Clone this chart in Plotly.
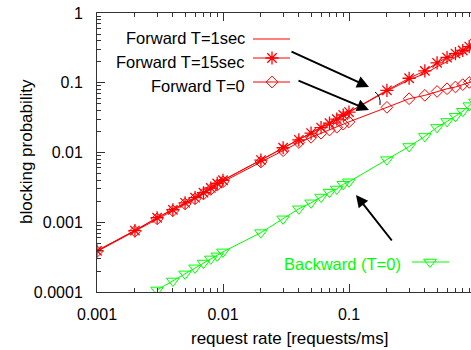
import plotly.graph_objects as go

# ---- data ----
rate = [0.001, 0.002, 0.003, 0.004, 0.005, 0.006, 0.007, 0.008, 0.009,
        0.01, 0.02, 0.03, 0.04, 0.05, 0.06, 0.07, 0.08, 0.09,
        0.1, 0.2, 0.3, 0.4, 0.5, 0.6, 0.7, 0.8, 0.9, 1.0]

fwd_15s = [0.00039, 0.00076, 0.00116, 0.00151, 0.0019, 0.00225, 0.00265, 0.0031, 0.0036,
           0.0040, 0.0078, 0.0117, 0.0152, 0.019, 0.0228, 0.0263, 0.030, 0.0345,
           0.038, 0.078, 0.116, 0.148, 0.193, 0.23, 0.262, 0.29, 0.33, 0.36]

fwd_1s = [0.00039, 0.00076, 0.00116, 0.00151, 0.0019, 0.00225, 0.00265, 0.0031, 0.0036,
          0.0040, 0.0078, 0.0117, 0.0152, 0.019, 0.0228, 0.0263, 0.030, 0.0345,
          0.038, 0.076, 0.11, 0.135, 0.17, 0.2, 0.23, 0.26, 0.29, 0.32]

fwd_0 = [0.00038, 0.00074, 0.00112, 0.00146, 0.00183, 0.00217, 0.00254, 0.00295, 0.0034,
         0.0038, 0.0073, 0.0106, 0.0139, 0.0165, 0.0189, 0.021, 0.023, 0.0255,
         0.0275, 0.0444, 0.059, 0.066, 0.075, 0.082, 0.087, 0.094, 0.101, 0.107]

bwd_rate = [0.003, 0.004, 0.005, 0.006, 0.007, 0.008, 0.009,
            0.01, 0.02, 0.03, 0.04, 0.05, 0.06, 0.07, 0.08, 0.09,
            0.1, 0.2, 0.3, 0.4, 0.5, 0.6, 0.7, 0.8, 0.9, 1.0]
bwd_0 = [0.000107, 0.000144, 0.000182, 0.000222, 0.00026, 0.000298, 0.00033,
         0.000376, 0.00071, 0.00112, 0.00156, 0.0019, 0.0023, 0.0027, 0.003, 0.0035,
         0.0038, 0.0079, 0.0122, 0.017, 0.0229, 0.0279, 0.033, 0.039, 0.047, 0.053]

x_ticks = [0.001, 0.01, 0.1, 1]
x_ticktext = ["0.001", "0.01", "0.1", "1"]
y_ticks = [0.0001, 0.001, 0.01, 0.1, 1]
y_ticktext = ["0.0001", "0.001", "0.01", "0.1", "1"]

RED = "#ff0000"
GREEN = "#00ff00"
FONT = "Liberation Sans, Arial, sans-serif"

# plot area in pixels
L, R, T, B = 97, 471, 13, 292
W, H = 471, 350


def px(x):
    return (x - L) / (R - L)


def py(y):
    return (B - y) / (B - T)


STAR = dict(symbol="asterisk-open", size=11, color=RED, line=dict(color=RED, width=1.3))
DIAM = dict(symbol="diamond-open", size=9, color=RED, line=dict(color=RED, width=1))
TRI = dict(symbol="triangle-down-open", size=11, color=GREEN, line=dict(color=GREEN, width=1))

fig = go.Figure()

fig.add_trace(go.Scatter(x=rate, y=fwd_1s, mode="lines",
                         line=dict(color=RED, width=1), showlegend=False))
fig.add_trace(go.Scatter(x=rate, y=fwd_15s, mode="lines+markers",
                         line=dict(color=RED, width=1), marker=STAR, showlegend=False))
fig.add_trace(go.Scatter(x=rate, y=fwd_0, mode="lines+markers",
                         line=dict(color=RED, width=1), marker=DIAM, showlegend=False))
fig.add_trace(go.Scatter(x=bwd_rate, y=bwd_0, mode="lines+markers",
                         line=dict(color=GREEN, width=1), marker=TRI, showlegend=False))

# legend markers on an overlay axis in paper-like units
fig.add_trace(go.Scatter(x=[px(272)], y=[py(58)], mode="markers", xaxis="x2", yaxis="y2",
                         marker=STAR, showlegend=False, hoverinfo="skip"))
fig.add_trace(go.Scatter(x=[px(272)], y=[py(82)], mode="markers", xaxis="x2", yaxis="y2",
                         marker=DIAM, showlegend=False, hoverinfo="skip"))
fig.add_trace(go.Scatter(x=[px(430)], y=[py(262)], mode="markers", xaxis="x2", yaxis="y2",
                         marker=TRI, showlegend=False, hoverinfo="skip"))

shapes = []
for y0, col, x0, x1 in [(39, RED, 253, 290), (58, RED, 253, 290), (82, RED, 253, 290),
                        (262, GREEN, 412, 449)]:
    shapes.append(dict(type="line", xref="paper", yref="paper",
                       x0=px(x0), x1=px(x1), y0=py(y0), y1=py(y0),
                       line=dict(color=col, width=1)))
# angle arc
shapes.append(dict(type="path", xref="paper", yref="paper",
                   path=f"M {px(375)},{py(92)} Q {px(381)},{py(96)} {px(380)},{py(105)}",
                   line=dict(color="black", width=1)))

annotations = []
for txt, yc in [("Forward T=1sec", 38), ("Forward T=15sec", 61.5), ("Forward T=0", 86)]:
    annotations.append(dict(text=txt, xref="paper", yref="paper", x=px(247), y=py(yc),
                            xanchor="right", yanchor="middle", showarrow=False,
                            font=dict(family=FONT, size=16.5, color="black")))
annotations.append(dict(text="Backward (T=0)", xref="paper", yref="paper", x=px(403), y=py(264),
                        xanchor="right", yanchor="middle", showarrow=False,
                        font=dict(family=FONT, size=16.5, color=GREEN)))

# arrows (head, tail)
for (hx, hy), (tx, ty) in [((369, 87), (290, 51)), ((369, 110), (297, 80)),
                           ((356, 195), (393, 242))]:
    annotations.append(dict(text="", xref="paper", yref="paper", x=px(hx), y=py(hy),
                            ax=tx - hx, ay=ty - hy, axref="pixel", ayref="pixel",
                            showarrow=True, arrowhead=2, arrowsize=1.2, arrowwidth=2,
                            arrowcolor="black"))

# axis titles
annotations.append(dict(text="request rate [requests/ms]", xref="paper", yref="paper",
                        x=px(289), y=py(338), xanchor="center", yanchor="middle",
                        showarrow=False, font=dict(family=FONT, size=17, color="black")))
annotations.append(dict(text="blocking probability", xref="paper", yref="paper",
                        x=px(26), y=py(152), xanchor="center", yanchor="middle",
                        textangle=-90, showarrow=False,
                        font=dict(family=FONT, size=17, color="black")))

axis_common = dict(showline=True, linecolor="#333333", linewidth=1, ticks="inside",
                   tickcolor="#333333", showgrid=False, zeroline=False,
                   tickfont=dict(family=FONT, size=16, color="black"))

fig.update_layout(
    width=W, height=H,
    margin=dict(l=L, r=W - R, t=T, b=H - B, pad=0),
    paper_bgcolor="white", plot_bgcolor="white",
    shapes=shapes, annotations=annotations,
    xaxis=dict(type="log", range=[-3, -3 + (R - L) / 126.0],
               tickvals=x_ticks, ticktext=x_ticktext, ticklen=8,
               mirror="ticks", ticklabelstandoff=8,
               minor=dict(ticks="inside", ticklen=4, dtick="D1", tickcolor="#333333",
                          showgrid=False),
               **axis_common),
    yaxis=dict(type="log", range=[-4, 0],
               tickvals=y_ticks, ticktext=y_ticktext, ticklen=8,
               mirror=False, ticklabelstandoff=10,
               minor=dict(ticks="inside", ticklen=4, dtick="D1", tickcolor="#333333",
                          showgrid=False),
               **axis_common),
    xaxis2=dict(overlaying="x", range=[0, 1], visible=False, fixedrange=True),
    yaxis2=dict(overlaying="y", range=[0, 1], visible=False, fixedrange=True),
    showlegend=False,
)

fig.write_html("out.html", config={"displayModeBar": False},
               post_script="document.body.style.margin='0';document.body.style.overflow='hidden';")
